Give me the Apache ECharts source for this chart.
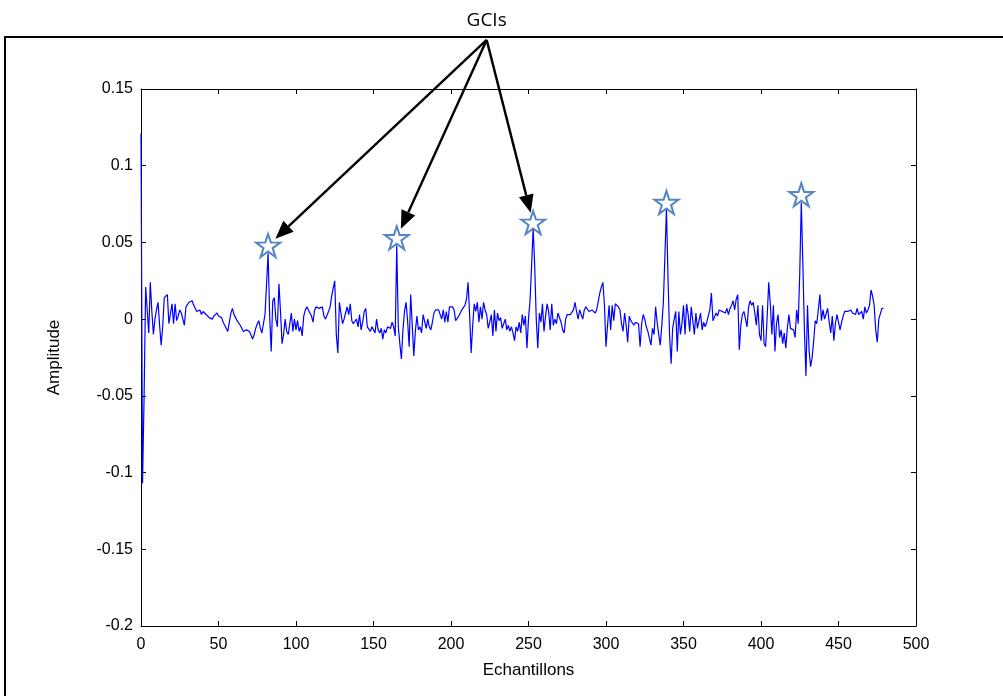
<!DOCTYPE html>
<html>
<head>
<meta charset="utf-8">
<script src="https://cdn.jsdelivr.net/npm/echarts@6/dist/echarts.min.js"></script>
<style>html,body{margin:0;padding:0;background:#fff}#c{width:1003px;height:696px}</style>
</head>
<body>
<div id="c"></div>
<script>
// Residual signal, one value per sample (index 0..479)
const amplitude = [
 0.121,-0.107,-0.050,0.021,0.020,-0.009,0.024,0.005,-0.010,0.000,
 0.006,0.011,-0.004,-0.017,-0.005,0.014,0.015,0.016,-0.003,-0.004,
 0.010,-0.003,0.010,-0.001,0.002,0.006,0.004,0.005,-0.004,0.008,
 0.007,0.011,0.012,0.012,0.009,0.009,0.005,0.005,0.006,0.003,
 0.005,0.005,0.003,0.004,0.001,0.002,0.000,0.002,0.003,0.004,
 0.002,0.003,0.001,-0.002,-0.004,-0.003,-0.008,-0.002,0.004,0.007,
 0.003,0.001,-0.001,-0.002,-0.004,-0.006,-0.008,-0.007,-0.007,-0.006,
 -0.008,-0.009,-0.013,-0.010,-0.006,-0.003,-0.001,-0.006,-0.009,-0.003,
 0.003,0.004,0.043,0.002,-0.021,0.012,0.014,0.000,-0.005,0.023,
 0.005,-0.016,-0.010,0.000,-0.008,-0.010,-0.011,0.004,-0.008,0.000,
 -0.007,-0.001,-0.008,-0.005,-0.011,0.002,0.006,0.008,0.006,0.004,
 0.002,-0.002,0.006,0.008,0.009,0.007,0.008,0.008,0.002,0.000,
 0.000,0.005,0.008,0.015,0.020,0.025,-0.010,-0.022,0.011,0.004,
 -0.003,0.000,0.004,0.008,0.003,0.010,-0.001,-0.003,-0.003,0.000,
 -0.005,0.003,-0.007,-0.002,0.005,0.007,-0.005,-0.006,-0.008,-0.005,
 -0.007,-0.009,0.000,-0.007,-0.009,-0.006,-0.013,-0.007,-0.009,-0.005,
 -0.004,-0.006,-0.002,-0.005,-0.011,0.048,-0.005,-0.016,-0.026,-0.007,
 0.005,0.011,-0.001,-0.018,0.016,0.015,-0.024,-0.008,0.002,-0.007,
 -0.005,-0.009,0.003,0.002,-0.006,0.000,-0.005,-0.007,-0.002,0.004,
 0.006,0.007,0.006,0.006,0.000,0.006,-0.002,0.005,-0.002,0.008,
 0.007,0.008,0.006,-0.001,0.000,0.002,0.003,0.006,0.005,0.009,
 0.013,0.024,0.003,-0.022,-0.004,0.010,0.005,0.011,-0.002,0.008,
 0.000,0.011,0.006,0.003,-0.006,-0.002,0.003,-0.011,0.006,-0.008,
 0.004,-0.001,0.001,-0.006,-0.003,0.000,-0.007,-0.004,-0.008,-0.005,
 -0.009,-0.014,-0.005,-0.008,-0.002,-0.009,0.003,-0.004,0.002,-0.019,
 0.000,0.012,0.035,0.059,0.035,0.000,-0.019,0.004,-0.002,0.010,
 -0.008,0.002,0.010,0.005,-0.007,0.010,-0.004,0.000,-0.003,0.004,
 0.003,-0.002,-0.007,-0.009,0.000,0.003,0.004,0.003,0.003,0.006,
 0.011,0.005,0.000,0.006,0.007,0.000,0.006,0.008,0.009,0.005,
 0.005,0.006,0.007,0.004,0.006,0.007,0.017,0.021,0.024,0.009,
 -0.018,-0.004,0.009,-0.007,0.009,-0.001,0.010,0.009,0.008,0.006,
 -0.003,-0.008,0.004,-0.004,-0.015,0.002,-0.001,0.000,-0.004,-0.002,
 -0.002,-0.003,-0.018,-0.003,0.003,0.000,-0.005,-0.008,-0.009,-0.017,
 -0.006,-0.010,0.008,-0.002,-0.010,-0.017,-0.004,0.011,0.041,0.072,
 0.027,-0.010,-0.029,-0.006,0.000,0.005,-0.021,0.005,-0.010,-0.003,
 0.009,-0.010,0.010,0.003,-0.008,0.008,-0.001,-0.010,0.004,-0.006,
 -0.001,0.004,-0.007,-0.002,-0.005,-0.002,-0.002,0.006,0.017,-0.001,
 -0.002,0.004,0.002,0.006,0.005,0.005,0.006,0.004,0.007,0.003,
 0.007,0.009,0.012,0.006,0.013,0.016,-0.020,-0.004,0.003,0.005,
 0.006,-0.005,0.008,0.012,0.009,0.011,0.004,-0.004,0.009,-0.010,
 -0.014,0.009,-0.016,-0.018,0.002,0.024,0.010,-0.010,0.009,-0.021,
 -0.003,0.003,-0.012,-0.007,-0.016,-0.009,-0.019,-0.006,0.003,-0.006,
 -0.005,-0.007,-0.012,0.006,-0.003,0.030,0.076,0.036,-0.007,-0.037,
 0.009,-0.020,-0.031,-0.025,-0.014,-0.001,-0.003,-0.002,0.016,-0.001,
 0.006,0.000,-0.001,0.007,-0.002,-0.009,0.002,-0.014,-0.003,0.003,
 -0.002,-0.007,-0.002,0.002,0.005,0.004,0.005,0.004,0.006,0.004,
 0.005,0.003,0.007,0.003,0.004,0.005,0.000,0.008,0.004,0.006,
 0.009,0.019,0.015,0.009,-0.007,-0.015,0.000,0.000,0.007,0.007
];
// GCI markers (sample index, marker amplitude)
const gciIndex = [82, 165, 253, 339, 426];
const gciValue = [0.048, 0.053, 0.063, 0.076, 0.081];
// Arrows start from the "GCIs" label and point at the first three GCIs
const arrowTargets = [0, 1, 2];
const arrowOrigin = [223, 0.182];
const titleText = 'GCIs';
const xName = 'Echantillons';
const yName = 'Amplitude';

const chart = echarts.init(document.getElementById('c'), null, {renderer: 'canvas'});
const lineData = amplitude.map((v, i) => [i, v]);
const gciData = gciIndex.map((x, k) => [x, gciValue[k]]);
const starPath = 'path://M50,0 L61.8,35.3 L100,35.3 L69.1,57.6 L80.9,93.9 L50,71.3 L19.1,93.9 L30.9,57.6 L0,35.3 L38.2,35.3 Z';
const fontFam = '"Liberation Sans", Arial, sans-serif';
const fmtY = v => String(parseFloat(v.toFixed(2)));

const axisCommon = {
  axisLine: {show: true, onZero: false, lineStyle: {color: '#000', width: 1}},
  axisTick: {show: true, inside: true, length: 5, lineStyle: {color: '#000'}},
  splitLine: {show: false}
};

chart.setOption({
  animation: false,
  backgroundColor: '#fff',
  grid: {left: 141, right: 87, top: 89, bottom: 70, containLabel: false},
  xAxis: [
    Object.assign({
      type: 'value', min: 0, max: 500, interval: 50, position: 'bottom',
      name: xName, nameLocation: 'middle', nameGap: 36,
      nameTextStyle: {fontFamily: fontFam, fontSize: 17, color: '#000'},
      axisLabel: {fontFamily: fontFam, fontSize: 16, color: '#000', margin: 11}
    }, axisCommon),
    Object.assign({
      type: 'value', min: 0, max: 500, interval: 50, position: 'top',
      axisLabel: {show: false}
    }, axisCommon)
  ],
  yAxis: [
    Object.assign({
      type: 'value', min: -0.2, max: 0.15, interval: 0.05, position: 'left',
      name: yName, nameLocation: 'middle', nameGap: 78, nameRotate: 90,
      nameTextStyle: {fontFamily: fontFam, fontSize: 17, color: '#000'},
      axisLabel: {fontFamily: fontFam, fontSize: 16, color: '#000', margin: 8, formatter: fmtY}
    }, axisCommon),
    Object.assign({
      type: 'value', min: -0.2, max: 0.15, interval: 0.05, position: 'right',
      axisLabel: {show: false}
    }, axisCommon)
  ],
  series: [
    {
      type: 'line', data: lineData, showSymbol: false, symbol: 'none',
      xAxisIndex: 0, yAxisIndex: 0, clip: false,
      lineStyle: {color: '#0000ff', width: 1.2}, z: 2
    },
    {
      type: 'scatter', data: gciData, symbol: starPath, symbolSize: [24, 23],
      xAxisIndex: 0, yAxisIndex: 0,
      itemStyle: {color: '#ffffff', borderColor: '#5585c2', borderWidth: 2, opacity: 1}, z: 3
    }
  ]
});

function drawAnnotations() {
  const o = chart.convertToPixel({xAxisIndex: 0, yAxisIndex: 0}, arrowOrigin);
  const els = [];
  // outer frame
  els.push({type: 'rect', shape: {x: 5, y: 37, width: 1100, height: 800},
            style: {fill: 'none', stroke: '#000', lineWidth: 2}, silent: true, z: 10});
  els.push({type: 'text', x: o[0], y: 21,
            style: {text: titleText, fill: '#000', font: '19px "Open Sans", "Noto Sans", sans-serif',
                    textAlign: 'center', textVerticalAlign: 'middle'}, z: 10});
  arrowTargets.forEach(k => {
    const p = chart.convertToPixel({xAxisIndex: 0, yAxisIndex: 0}, gciData[k]);
    const dx = p[0] - o[0], dy = p[1] - o[1];
    const L = Math.sqrt(dx * dx + dy * dy);
    const ux = dx / L, uy = dy / L;
    const ex = p[0] - ux * 10, ey = p[1] - uy * 10;
    const hl = 18, hw = 7.5;
    const bx = ex - ux * hl, by = ey - uy * hl;
    els.push({type: 'line', shape: {x1: o[0], y1: o[1], x2: bx, y2: by},
              style: {stroke: '#000', lineWidth: 2.4}, z: 10});
    els.push({type: 'polygon', shape: {points: [[ex, ey], [bx - uy * hw, by + ux * hw], [bx + uy * hw, by - ux * hw]]},
              style: {fill: '#000'}, z: 10});
  });
  chart.setOption({graphic: els});
}
drawAnnotations();
</script>
</body>
</html>
